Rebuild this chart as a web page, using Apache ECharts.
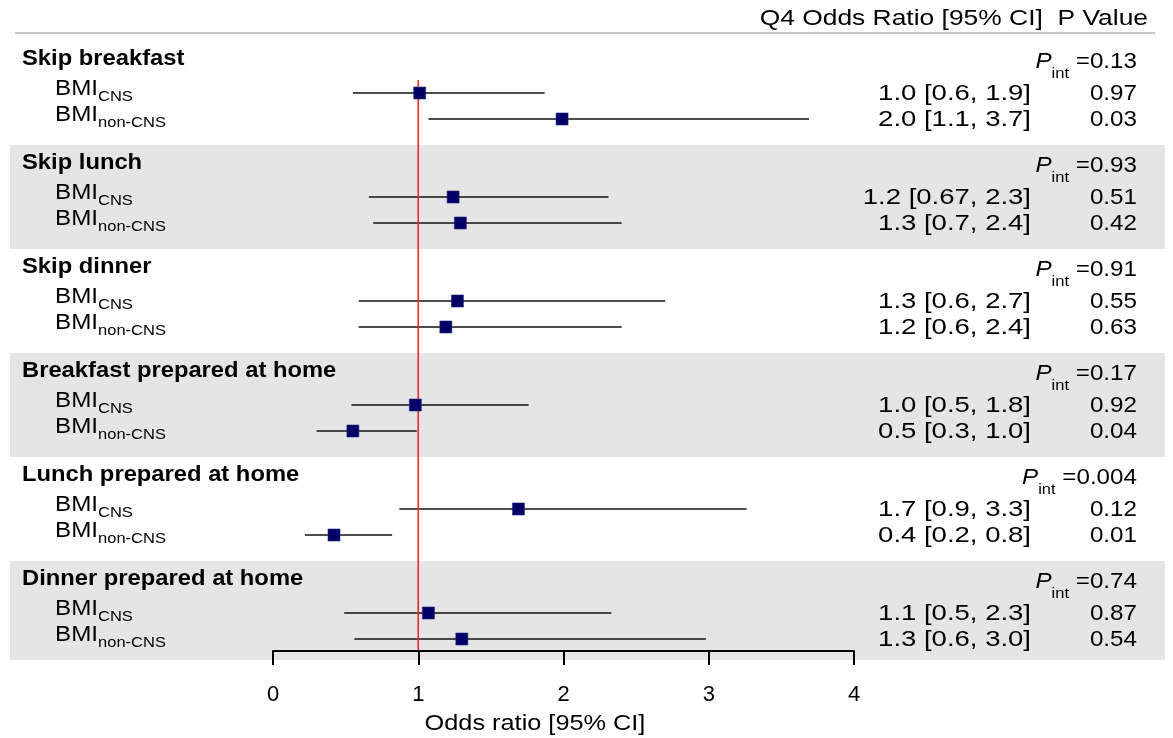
<!DOCTYPE html>
<html><head><meta charset="utf-8">
<script src="https://cdn.jsdelivr.net/npm/echarts@6/dist/echarts.min.js"></script>
<style>html,body{margin:0;padding:0;background:#fff}#c{width:1173px;height:738px}</style>
</head><body><div id="c"></div>
<script>
// ---------------- data ----------------
const groups = ['Skip breakfast', 'Skip lunch', 'Skip dinner', 'Breakfast prepared at home', 'Lunch prepared at home', 'Dinner prepared at home'];
const subLabels = ['CNS', 'non-CNS'];
// per row: group0 CNS, group0 non-CNS, group1 CNS, ...
const estimates = [1.01, 1.99, 1.24, 1.29, 1.27, 1.19, 0.98, 0.55, 1.69, 0.42, 1.07, 1.30];
const lowerCI   = [0.55, 1.07, 0.66, 0.69, 0.59, 0.59, 0.54, 0.30, 0.87, 0.22, 0.49, 0.56];
const upperCI   = [1.87, 3.69, 2.31, 2.40, 2.70, 2.40, 1.76, 0.99, 3.26, 0.82, 2.33, 2.98];
const orLabels  = ['1.0 [0.6, 1.9]', '2.0 [1.1, 3.7]', '1.2 [0.67, 2.3]', '1.3 [0.7, 2.4]', '1.3 [0.6, 2.7]', '1.2 [0.6, 2.4]',
                   '1.0 [0.5, 1.8]', '0.5 [0.3, 1.0]', '1.7 [0.9, 3.3]', '0.4 [0.2, 0.8]', '1.1 [0.5, 2.3]', '1.3 [0.6, 3.0]'];
const pValues   = ['0.97', '0.03', '0.51', '0.42', '0.55', '0.63', '0.92', '0.04', '0.12', '0.01', '0.87', '0.54'];
const pInteraction = ['0.13', '0.93', '0.91', '0.17', '0.004', '0.74'];
const xTicks = [0, 1, 2, 3, 4];
const refValue = 1;
const axisTitle = 'Odds ratio [95% CI]';
const colHeader = 'Q4 Odds Ratio [95% CI]  P Value';

// ---------------- layout ----------------
const W = 1173, ROW = 26, TOP = 41, AXIS_Y = 651;
const KMAX = (AXIS_Y - TOP) / ROW;
const FONT = '"Liberation Sans", Arial, Helvetica, sans-serif';
const FS = 22, SFS = 15;
const rowK = i => 4 * Math.floor(i / 2) + 2 + (i % 2);

const RICH = {
  b:  { fontSize: FS, fontFamily: FONT, lineHeight: FS, color: '#000' },
  bb: { fontSize: FS, fontFamily: FONT, lineHeight: FS, fontWeight: 'bold', color: '#000' },
  s:  { fontSize: SFS, fontFamily: FONT, lineHeight: FS, padding: [17, 0, 0, 0], color: '#000' },
  pi: { fontSize: FS, fontFamily: FONT, lineHeight: FS, fontStyle: 'italic', color: '#000' },
  ps: { fontSize: SFS, fontFamily: FONT, lineHeight: FS, padding: [24, 0, 0, 0], color: '#000' }
};

// text items (grid B: x in pixels, y in row slots)
const textItems = [];
textItems.push({ x: 1148, k: -0.83, sx: 1.2, text: '{b|' + colHeader + '}', align: 'right' });
groups.forEach((g, gi) => {
  textItems.push({ x: 22, k: 4 * gi + 0.68, sx: 1.08, text: '{bb|' + g + '}', align: 'left' });
  textItems.push({ x: 1137, k: 4 * gi + 0.8, sx: 1.1, text: '{pi|P}{ps|int}{b| =' + pInteraction[gi] + '}', align: 'right' });
});
estimates.forEach((v, i) => {
  const k = rowK(i);
  textItems.push({ x: 55, k: k - 0.17, sx: 1.1, text: '{b|BMI}{s|' + subLabels[i % 2] + '}', align: 'left' });
  textItems.push({ x: 1031, k: k + 0.02, sx: 1.25, text: '{b|' + orLabels[i] + '}', align: 'right' });
  textItems.push({ x: 1137, k: k + 0.02, sx: 1.1, text: '{b|' + pValues[i] + '}', align: 'right' });
});
textItems.push({ x: 535, k: (724 - TOP) / ROW, sx: 1.15, text: '{b|' + axisTitle + '}', align: 'center' });

const bandGroups = [1, 3, 5];

const chart = echarts.init(document.getElementById('c'), null, { renderer: 'canvas' });
chart.setOption({
  animation: false,
  backgroundColor: '#fff',
  grid: [
    { left: 273, width: 581, top: TOP, height: AXIS_Y - TOP },
    { left: 0, width: W, top: TOP, height: AXIS_Y - TOP }
  ],
  xAxis: [
    { gridIndex: 0, type: 'value', position: 'bottom', min: xTicks[0], max: xTicks[xTicks.length - 1], interval: 1, z: 10,
      axisLine: { show: true, onZero: false, lineStyle: { color: '#000', width: 2 } },
      axisTick: { show: true, length: 14, lineStyle: { color: '#000', width: 2 } },
      axisLabel: { fontSize: FS, color: '#000', margin: 33, fontFamily: FONT },
      splitLine: { show: false } },
    { gridIndex: 1, type: 'value', min: 0, max: W, show: false }
  ],
  yAxis: [
    { gridIndex: 0, type: 'value', min: 0, max: KMAX, inverse: true, show: false },
    { gridIndex: 1, type: 'value', min: 0, max: KMAX, inverse: true, show: false }
  ],
  series: [
    { // shaded bands
      type: 'custom', xAxisIndex: 1, yAxisIndex: 1, z: 1, clip: false, silent: true,
      data: bandGroups.map(g => [g]),
      renderItem: (params, api) => {
        const g = api.value(0);
        const p0 = api.coord([10, 4 * g]);
        const endK = g === groups.length - 1 ? (660 - TOP) / ROW : 4 * g + 4;
        const p1 = api.coord([1165, endK]);
        return { type: 'rect', shape: { x: p0[0], y: p0[1], width: p1[0] - p0[0], height: p1[1] - p0[1] },
                 style: { fill: '#e5e5e5' } };
      }
    },
    { // header rule
      type: 'custom', xAxisIndex: 1, yAxisIndex: 1, z: 2, clip: false, silent: true,
      data: [[0]],
      renderItem: (params, api) => {
        const a = api.coord([15, -0.31]), b = api.coord([1155, -0.31]);
        return { type: 'line', shape: { x1: a[0], y1: a[1], x2: b[0], y2: b[1] },
                 style: { stroke: '#b4b4b4', lineWidth: 1.5 } };
      }
    },
    { // confidence intervals
      type: 'custom', xAxisIndex: 0, yAxisIndex: 0, z: 3, clip: false, silent: true,
      data: estimates.map((v, i) => [lowerCI[i], upperCI[i], rowK(i)]),
      renderItem: (params, api) => {
        const a = api.coord([api.value(0), api.value(2)]);
        const b = api.coord([api.value(1), api.value(2)]);
        return { type: 'line', shape: { x1: a[0], y1: a[1], x2: b[0], y2: b[1] },
                 style: { stroke: '#111', lineWidth: 1.5 } };
      }
    },
    { // reference line at OR = 1
      type: 'line', xAxisIndex: 0, yAxisIndex: 0, z: 4, silent: true, symbol: 'none',
      data: [[refValue, 1.5], [refValue, KMAX]],
      lineStyle: { color: '#e82a2a', width: 1.6 }
    },
    { // point estimates
      type: 'scatter', xAxisIndex: 0, yAxisIndex: 0, z: 5, silent: true,
      symbol: 'rect', symbolSize: 12,
      data: estimates.map((v, i) => [v, rowK(i)]),
      itemStyle: { color: '#000066', borderColor: '#2a2a80', borderWidth: 0.6, opacity: 1 }
    },
    { // texts
      type: 'custom', xAxisIndex: 1, yAxisIndex: 1, z: 6, clip: false, silent: true,
      data: textItems.map(t => [t.x, t.k]),
      renderItem: (params, api) => {
        const t = textItems[params.dataIndex];
        const p = api.coord([api.value(0), api.value(1)]);
        return { type: 'text', x: p[0], y: p[1], scaleX: t.sx,
                 style: { text: t.text, rich: RICH, align: t.align, verticalAlign: 'middle',
                          fontSize: FS, fontFamily: FONT, fill: '#000' } };
      }
    }
  ]
});
</script>
</body></html>
